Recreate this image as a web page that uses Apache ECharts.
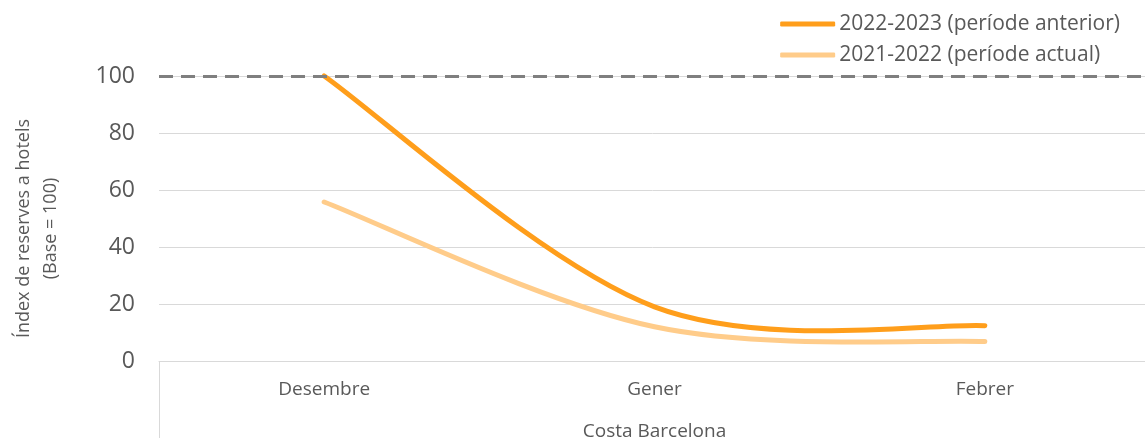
<!DOCTYPE html>
<html><head><meta charset="utf-8">
<script src="https://cdn.jsdelivr.net/npm/echarts@6/dist/echarts.min.js"></script>
<style>html,body{margin:0;padding:0;background:#fff}#c{width:1145px;height:438px}</style>
</head><body><div id="c"></div>
<script>
const categories = ['Desembre', 'Gener', 'Febrer'];
const groupLabel = 'Costa Barcelona';
const seriesNames = ['2022-2023 (període anterior)', '2021-2022 (període actual)'];
const values2223 = [100, 19, 12.4];
const values2122 = [55.8, 12, 6.8];
const baseValue = 100;
const yTicks = [0, 20, 40, 60, 80, 100];
const yName = 'Índex de reserves a hotels\n(Base = 100)';

const font = 'Open Sans';

// Smooth curve (Catmull-Rom style, like the spreadsheet's smoothed line) drawn
// through points positioned by the chart's own axes via api.coord.
function smoothSeries(name, values, color, z) {
  return {
    name: name, type: 'custom', z: z,
    data: values.map(function (v, i) { return [i, v]; }),
    itemStyle: { color: color },
    renderItem: function (params, api) {
      if (params.dataIndex !== 0) return null;
      const p = values.map(function (v, i) { return api.coord([i, v]); });
      const n = p.length;
      const at = function (k) { return p[Math.max(0, Math.min(n - 1, k))]; };
      let d = 'M' + p[0][0] + ' ' + p[0][1];
      for (let i = 0; i < n - 1; i++) {
        const p0 = at(i - 1), p1 = at(i), p2 = at(i + 1), p3 = at(i + 2);
        const c1x = p1[0] + (p2[0] - p0[0]) / 6, c1y = p1[1] + (p2[1] - p0[1]) / 6;
        const c2x = p2[0] - (p3[0] - p1[0]) / 6, c2y = p2[1] - (p3[1] - p1[1]) / 6;
        d += ' C' + c1x + ' ' + c1y + ' ' + c2x + ' ' + c2y + ' ' + p2[0] + ' ' + p2[1];
      }
      return {
        type: 'path', shape: { pathData: d },
        style: { fill: 'none', stroke: color, lineWidth: 5, lineCap: 'round', lineJoin: 'round' }
      };
    }
  };
}

const chart = echarts.init(document.getElementById('c'));
chart.setOption({
  animation: false,
  textStyle: { fontFamily: font },
  grid: { left: 159, right: -5, top: 76, bottom: 77, containLabel: false, outerBoundsMode: 'none' },
  legend: {
    orient: 'vertical', right: 20, top: 5, itemGap: 3,
    itemWidth: 55, itemHeight: 5, icon: 'roundRect',
    textStyle: { fontSize: 21, lineHeight: 28, color: '#595959', fontFamily: font, padding: [0, 0, 0, -1] },
    data: seriesNames
  },
  xAxis: {
    type: 'category', data: categories, boundaryGap: true,
    axisLine: { show: true, lineStyle: { color: '#D9D9D9', width: 1 } },
    axisTick: { show: false },
    axisLabel: { fontSize: 19, color: '#595959', margin: 19 },
    name: groupLabel, nameLocation: 'middle', nameGap: 61,
    nameTextStyle: { fontSize: 19, color: '#595959' }
  },
  yAxis: {
    type: 'value', min: yTicks[0], max: yTicks[yTicks.length - 1], interval: 20,
    axisLine: { show: false }, axisTick: { show: false },
    axisLabel: { fontSize: 23, color: '#595959', margin: 24 },
    splitLine: { lineStyle: { color: '#D9D9D9', width: 1 } },
    name: yName, nameLocation: 'middle', nameGap: 95, nameRotate: 90,
    nameTextStyle: { fontSize: 18, color: '#595959', lineHeight: 27, padding: [0, 20, 0, 0] }
  },
  graphic: [{
    type: 'line', shape: { x1: 159.5, y1: 361, x2: 159.5, y2: 438 },
    style: { stroke: '#D9D9D9', lineWidth: 1 }
  }],
  series: [
    {
      name: 'Base', type: 'line', data: [], symbol: 'none', z: 5,
      markLine: {
        silent: true, symbol: 'none', label: { show: false },
        lineStyle: { color: '#7F7F7F', type: [14, 8], width: 3 },
        data: [{ yAxis: baseValue }]
      }
    },
    smoothSeries(seriesNames[0], values2223, '#FF9E1B', 4),
    smoothSeries(seriesNames[1], values2122, '#FFCC8A', 3)
  ]
});
</script></body></html>
